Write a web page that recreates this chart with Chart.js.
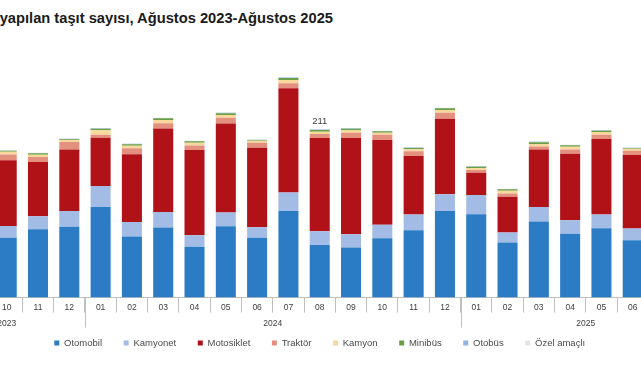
<!DOCTYPE html>
<html><head><meta charset="utf-8">
<script src="https://cdn.jsdelivr.net/npm/chart.js@4"></script>
<style>
html,body{margin:0;padding:0;background:#fff;overflow:hidden;width:641px;height:380px;position:relative;}
#title{position:absolute;right:308px;top:10px;white-space:nowrap;font:bold 14.7px "Liberation Sans",Arial,sans-serif;color:#1a1a1a;}
#c{position:absolute;left:-90px;top:0;}
</style></head><body>
<div id="title">Trafiğe kaydı yapılan taşıt sayısı, Ağustos 2023-Ağustos 2025</div>
<canvas id="c" width="820" height="380"></canvas>
<script>
// Categories (Ağustos 2023 - Ağustos 2025); only 10/2023 - 06/2025 are visible in the reference
const months = ['08','09','10','11','12','01','02','03','04','05','06','07','08','09','10','11','12','01','02','03','04','05','06','07','08'];
const years  = ['2023','2023','2023','2023','2023','2024','2024','2024','2024','2024','2024','2024','2024','2024','2024','2024','2024','2025','2025','2025','2025','2025','2025','2025','2025'];
// Values in thousands (months outside the visible crop are left empty)
const otomobil   = [null,null,75.2,85.6,89.0,113.6,76.5,87.8,63.9,89.4,75.2,108.6,65.9,62.7,74.3,84.4,108.6,104.4,69.0,95.3,80.2,86.9,71.8,null,null];
const kamyonet   = [null,null,14.5,16.3,19.6,26.3,18.3,19.6,14.2,17.2,12.9,23.1,17.2,16.7,17.2,19.7,20.9,24.2,12.5,18.3,16.7,17.2,15.0,null,null];
const motosiklet = [null,null,82.7,68.1,77.3,60.7,84.9,104.6,106.9,111.6,99.9,130.8,117.0,120.7,106.1,73.5,94.9,28.1,45.1,72.0,83.6,94.8,91.9,null,null];
const traktor    = [null,null,7.1,6.3,9.2,3.8,7.5,6.6,5.9,7.5,6.3,6.3,5.0,6.8,6.8,5.9,7.5,3.3,4.1,3.8,5.4,5.5,5.5,null,null];
const kamyon     = [null,null,3.4,3.0,2.5,5.4,3.4,4.1,3.4,3.3,2.5,4.1,3.0,2.9,2.5,2.5,3.3,2.5,3.4,3.3,3.4,3.3,2.5,null,null];
const minibus    = [null,null,1.2,1.7,1.0,2.1,1.7,2.2,1.7,2.2,0.8,2.6,2.1,2.1,1.7,1.7,2.2,1.7,1.7,2.2,1.7,1.7,0.8,null,null];
const otobus     = [null,null,0.5,0.5,0.5,0.5,0.5,0.5,0.5,0.5,0.5,0.5,0.5,0.5,0.5,0.5,0.5,0.5,0.5,0.5,0.5,0.5,0.5,null,null];
const ozelAmacli = [null,null,0.3,0.3,0.3,0.3,0.3,0.3,0.3,0.3,0.3,0.3,0.3,0.3,0.3,0.3,0.3,0.3,0.3,0.3,0.3,0.3,0.3,null,null];
const seriesNames = ['Otomobil','Kamyonet','Motosiklet','Traktör','Kamyon','Minibüs','Otobüs','Özel amaçlı'];
const seriesData  = [otomobil,kamyonet,motosiklet,traktor,kamyon,minibus,otobus,ozelAmacli];
const seriesColors = ['#2B7CC5','#A3BCE5','#B01218','#E4907F','#F8D99B','#6A9F47','#8DB4E2','#E4E4E4'];
const totalLabelIndex = [12]; // 08/2024 total shown above bar

const FONT = '"Liberation Sans", Arial, sans-serif';

const yearPlugin = {
  id: 'yearPlugin',
  afterDraw(chart) {
    const ctx = chart.ctx, xs = chart.scales.x, base = chart.chartArea.bottom;
    ctx.save();
    const groups = [];
    years.forEach((y, i) => {
      if (!groups.length || groups[groups.length-1].y !== y) groups.push({y, s:i, e:i});
      else groups[groups.length-1].e = i;
    });
    ctx.strokeStyle = '#BFBFBF'; ctx.lineWidth = 1;
    ctx.fillStyle = '#404040';
    ctx.font = '8.5px ' + FONT;
    ctx.textAlign = 'center'; ctx.textBaseline = 'middle';
    groups.forEach((g, gi) => {
      const cx = (xs.getPixelForValue(g.s) + xs.getPixelForValue(g.e)) / 2;
      ctx.fillText(g.y, cx, base + 26);
      if (gi < groups.length - 1) {
        const bx = Math.round((xs.getPixelForValue(g.e) + xs.getPixelForValue(g.e + 1)) / 2) + 0.5;
        ctx.beginPath(); ctx.moveTo(bx, base); ctx.lineTo(bx, base + 30); ctx.stroke();
      }
    });
    ctx.restore();
  }
};

const totalPlugin = {
  id: 'totalPlugin',
  afterDatasetsDraw(chart) {
    const ctx = chart.ctx, xs = chart.scales.x, ys = chart.scales.y;
    ctx.save();
    ctx.fillStyle = '#404040';
    ctx.font = '9.5px ' + FONT;
    ctx.textAlign = 'center'; ctx.textBaseline = 'alphabetic';
    totalLabelIndex.forEach(i => {
      const total = seriesData.reduce((s, d) => s + (d[i] || 0), 0);
      ctx.fillText(String(Math.round(total)), xs.getPixelForValue(i), ys.getPixelForValue(total) - 5);
    });
    ctx.restore();
  }
};

new Chart(document.getElementById('c'), {
  type: 'bar',
  data: {
    labels: months,
    datasets: seriesNames.map((n, i) => ({
      label: n, data: seriesData[i], backgroundColor: seriesColors[i],
      borderWidth: 0, categoryPercentage: 0.8, barPercentage: 0.8
    }))
  },
  options: {
    responsive: false, animation: false,
    layout: { padding: { left: 18.45, right: 19, top: 58.4, bottom: 22.3 } },
    plugins: {
      tooltip: { enabled: false },
      legend: {
        position: 'bottom',
        labels: { boxWidth: 5, boxHeight: 5, padding: 21.6, color: '#4a4a4a', font: { family: FONT, size: 9.5 } }
      }
    },
    scales: {
      x: {
        stacked: true,
        grid: { offset: true, drawOnChartArea: false, drawTicks: true, tickLength: 15, color: '#BFBFBF' },
        border: { display: true, color: '#BFBFBF' },
        ticks: { padding: -10, color: '#404040', font: { family: FONT, size: 8.5 }, maxRotation: 0, autoSkip: false },
        afterFit: (s) => { s.height = 19.0; }
      },
      y: { stacked: true, display: false, min: 0, max: 300 }
    }
  },
  plugins: [yearPlugin, totalPlugin]
});
</script>
</body></html>
